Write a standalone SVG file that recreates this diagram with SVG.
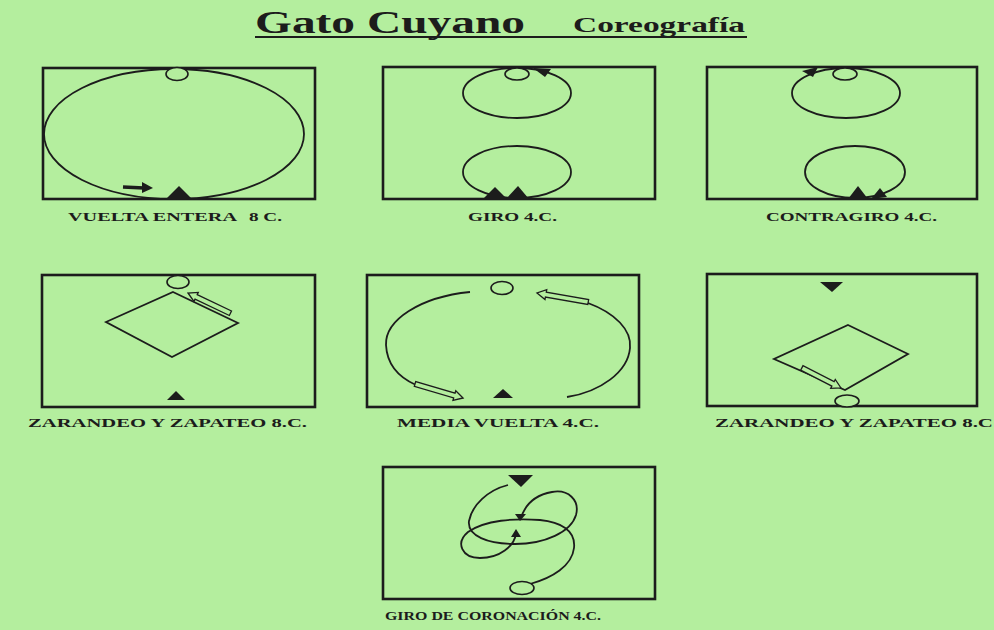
<svg xmlns="http://www.w3.org/2000/svg" width="994" height="630" viewBox="0 0 994 630">
<style>
.bg{fill:#b4ee9e}
.frame{fill:none;stroke:#1c1c1c;stroke-width:2.6}
.ln{fill:none;stroke:#1c1c1c;stroke-width:1.8}
.hole{fill:#b4ee9e;stroke:#1c1c1c;stroke-width:1.6}
.dk{fill:#1c1c1c}
.ha{fill:#b4ee9e;stroke:#1c1c1c;stroke-width:1.3;stroke-linejoin:miter}
.lbl{font-family:"Liberation Serif","Times New Roman",serif;font-weight:bold;font-size:12.5px;fill:#1c1c1c}
.t1{font-family:"Liberation Serif","Times New Roman",serif;font-weight:bold;font-size:32px;fill:#1c1c1c}
.t2{font-family:"Liberation Serif","Times New Roman",serif;font-weight:bold;font-size:21px;fill:#1c1c1c}
</style>
<rect class="bg" x="0" y="0" width="994" height="630"/>

<g id="title">
<text class="t1" x="255" y="33" textLength="270" lengthAdjust="spacingAndGlyphs">Gato Cuyano</text>
<text class="t2" x="573" y="32" textLength="172" lengthAdjust="spacingAndGlyphs">Coreografía</text>
<line x1="255" y1="37" x2="747" y2="37" stroke="#1c1c1c" stroke-width="2"/>
</g>

<g id="vuelta-entera">
<rect class="frame" x="43" y="68" width="272" height="131"/>
<ellipse class="ln" cx="174" cy="134" rx="130" ry="65"/>
<ellipse class="hole" cx="177" cy="74" rx="11" ry="6.5"/>
<polygon class="dk" points="166,199 192,199 179,186"/>
<line x1="123" y1="187" x2="144" y2="188" stroke="#1c1c1c" stroke-width="3.5"/>
<polygon class="dk" points="142,182 153,188 142,193"/>
<text class="lbl" x="68" y="221" textLength="169" lengthAdjust="spacingAndGlyphs">VUELTA ENTERA</text>
<text class="lbl" x="249" y="221" textLength="33" lengthAdjust="spacingAndGlyphs">8 C.</text>
</g>

<g id="giro">
<rect class="frame" x="383" y="67" width="272" height="132"/>
<ellipse class="ln" cx="517" cy="93" rx="54" ry="25"/>
<ellipse class="hole" cx="517" cy="74" rx="12" ry="6"/>
<polygon class="dk" points="533,68 551,69 545,77"/>
<ellipse class="ln" cx="517" cy="172" rx="54" ry="26"/>
<polygon class="dk" points="483,199 507,199 495,187"/>
<polygon class="dk" points="506,199 529,199 518,186"/>
<text class="lbl" x="468" y="221" textLength="89" lengthAdjust="spacingAndGlyphs">GIRO  4.C.</text>
</g>

<g id="contragiro">
<rect class="frame" x="707" y="67" width="270" height="132"/>
<ellipse class="ln" cx="846" cy="93" rx="54" ry="25"/>
<ellipse class="hole" cx="845" cy="74" rx="12" ry="6"/>
<polygon class="dk" points="802,71 818,67 813,77"/>
<ellipse class="ln" cx="855" cy="172" rx="50" ry="26"/>
<polygon class="dk" points="848,199 868,199 858,186"/>
<polygon class="dk" points="871,199 887,197 880,188"/>
<text class="lbl" x="766" y="221" textLength="171" lengthAdjust="spacingAndGlyphs">CONTRAGIRO 4.C.</text>
</g>

<g id="zarandeo-1">
<rect class="frame" x="42" y="275" width="273" height="132"/>
<ellipse class="hole" cx="178" cy="282" rx="11" ry="6.5"/>
<polygon class="ln" points="173,292 238,323 172,357 106,322"/>
<path class="ha" transform="translate(188,293) rotate(205.5)" d="M0,0 L-9,-5 L-9,-2.5 L-47,-2.5 L-47,2.5 L-9,2.5 L-9,5 Z"/>
<polygon class="dk" points="167,400 185,400 176,391"/>
<text class="lbl" x="28" y="427" textLength="279" lengthAdjust="spacingAndGlyphs">ZARANDEO Y ZAPATEO 8.C.</text>
</g>

<g id="media-vuelta">
<rect class="frame" x="367" y="275" width="272" height="132"/>
<ellipse class="hole" cx="502" cy="288" rx="11" ry="6.5"/>
<path class="ln" d="M470,292 C420,297 385,320 386,345 C387,365 398,377 416,385"/>
<path class="ha" transform="translate(463,398) rotate(16.3)" d="M0,0 L-9,-5 L-9,-2.5 L-50,-2.5 L-50,2.5 L-9,2.5 L-9,5 Z"/>
<path class="ha" transform="translate(537,293) rotate(190)" d="M0,0 L-9,-5 L-9,-2.5 L-52,-2.5 L-52,2.5 L-9,2.5 L-9,5 Z"/>
<path class="ln" d="M588,303 C615,313 632,330 630,348 C628,372 600,392 567,397"/>
<polygon class="dk" points="493,398 513,398 503,389"/>
<text class="lbl" x="397" y="427" textLength="202" lengthAdjust="spacingAndGlyphs">MEDIA VUELTA 4.C.</text>
</g>

<g id="zarandeo-2">
<rect class="frame" x="707" y="274" width="270" height="132"/>
<polygon class="dk" points="820,282 843,282 832,292"/>
<polygon class="ln" points="848,325 908,354 845,390 774,359"/>
<path class="ha" transform="translate(841,388) rotate(27.1)" d="M0,0 L-9,-5 L-9,-2.5 L-44,-2.5 L-44,2.5 L-9,2.5 L-9,5 Z"/>
<ellipse class="hole" cx="847" cy="401" rx="12" ry="6"/>
<text class="lbl" x="715" y="427" textLength="278" lengthAdjust="spacingAndGlyphs">ZARANDEO Y ZAPATEO 8.C</text>
</g>

<g id="giro-coronacion">
<rect class="frame" x="383" y="467" width="272" height="132"/>
<polygon class="dk" points="508,475 533,475 521,487"/>
<path class="ln" d="M508,485 C488,490 472,505 469,521 C467,536 488,544 515,544 C545,544 571,532 576,515 C580,500 568,489 552,492 C535,495 525,505 521,518"/>
<polygon class="dk" points="515,514 526,514 520,521"/>
<path class="ln" d="M530,584 C552,578 572,566 574,548 C576,530 560,522 540,520 C515,518 485,520 468,532 C455,543 462,558 480,558 C500,558 514,546 516,534"/>
<polygon class="dk" points="511,537 521,537 516,529"/>
<ellipse class="hole" cx="522" cy="588" rx="12" ry="6.5"/>
<text class="lbl" x="385" y="620" textLength="216" lengthAdjust="spacingAndGlyphs">GIRO DE CORONACIÓN 4.C.</text>
</g>
</svg>
